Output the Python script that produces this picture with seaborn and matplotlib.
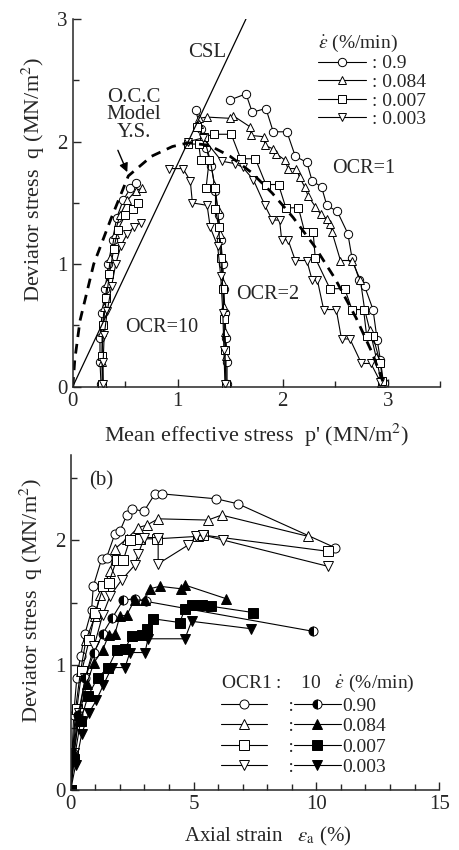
import matplotlib
matplotlib.use("Agg")
import matplotlib.pyplot as plt
from matplotlib.ticker import MultipleLocator
import seaborn as sns

# ---------------- (a) effective stress paths  p' - q ----------------
rates = ["0.9", "0.084", "0.007", "0.003"]
rates_b = ["0.90", "0.084", "0.007", "0.003"]
markers = ["o", "^", "s", "v"]

# OCR = 1
p_ocr1 = [
    [2.96, 2.93, 2.90, 2.86, 2.78, 2.73, 2.66, 2.62, 2.52, 2.42, 2.37, 2.28, 2.23, 2.12, 2.04, 1.91, 1.84, 1.71, 1.65, 1.50],
    [2.94, 2.89, 2.83, 2.78, 2.74, 2.66, 2.55, 2.47, 2.45, 2.42, 2.36, 2.31, 2.24, 2.21, 2.16, 2.13, 2.05, 2.02, 1.94, 1.91, 1.83, 1.82, 1.70, 1.69, 1.53, 1.50, 1.28, 1.20],
    [2.95, 2.93, 2.86, 2.80, 2.77, 2.66, 2.59, 2.45, 2.31, 2.29, 2.21, 2.15, 2.03, 1.96, 1.84, 1.74, 1.60, 1.51, 1.35, 1.25, 1.18],
    [2.93, 2.84, 2.75, 2.64, 2.56, 2.51, 2.39, 2.33, 2.28, 2.23, 2.12, 2.05, 1.99, 1.97, 1.90, 1.83, 1.72, 1.62, 1.55, 1.42, 1.24, 1.10],
]
q_ocr1 = [
    [0.03, 0.22, 0.38, 0.63, 0.82, 0.87, 1.05, 1.25, 1.43, 1.48, 1.63, 1.68, 1.83, 1.88, 2.08, 2.08, 2.27, 2.24, 2.39, 2.34],
    [0.03, 0.24, 0.46, 0.63, 0.87, 1.03, 1.03, 1.26, 1.33, 1.37, 1.41, 1.47, 1.56, 1.63, 1.71, 1.78, 1.78, 1.85, 1.90, 1.94, 1.97, 2.04, 2.05, 2.12, 2.21, 2.19, 2.20, 2.19],
    [0.05, 0.19, 0.41, 0.41, 0.63, 0.63, 0.80, 0.80, 1.05, 1.26, 1.26, 1.46, 1.46, 1.65, 1.65, 1.86, 1.86, 2.06, 2.06, 2.04, 2.12],
    [0.04, 0.19, 0.19, 0.39, 0.39, 0.63, 0.63, 0.87, 0.87, 1.03, 1.03, 1.20, 1.20, 1.36, 1.36, 1.48, 1.69, 1.79, 1.82, 1.84, 2.03, 2.00],
]

# OCR = 2
p_ocr2 = [
    [1.47, 1.47, 1.46, 1.45, 1.44, 1.43, 1.41, 1.39, 1.36, 1.32, 1.27, 1.22, 1.17],
    [1.46, 1.46, 1.45, 1.44, 1.43, 1.42, 1.40, 1.38, 1.35, 1.31, 1.26, 1.20],
    [1.46, 1.45, 1.44, 1.43, 1.41, 1.39, 1.36, 1.36, 1.27, 1.30, 1.22, 1.20, 1.10],
    [1.45, 1.44, 1.43, 1.41, 1.38, 1.31, 1.28, 1.14, 1.12, 1.05, 0.92],
]
q_ocr2 = [
    [0.02, 0.20, 0.40, 0.60, 0.80, 1.00, 1.20, 1.40, 1.60, 1.80, 1.95, 2.10, 2.26],
    [0.02, 0.25, 0.45, 0.65, 0.85, 1.05, 1.25, 1.45, 1.65, 1.85, 2.00, 2.14],
    [0.02, 0.30, 0.55, 0.80, 1.05, 1.30, 1.45, 1.62, 1.62, 1.85, 1.85, 1.98, 1.98],
    [0.02, 0.30, 0.60, 0.90, 1.15, 1.30, 1.48, 1.50, 1.68, 1.78, 1.78],
]

# OCR = 10
p_ocr10 = [
    [0.27, 0.26, 0.26, 0.28, 0.31, 0.34, 0.38, 0.42, 0.48, 0.55, 0.60],
    [0.29, 0.28, 0.28, 0.30, 0.33, 0.36, 0.40, 0.45, 0.52, 0.60, 0.66],
    [0.28, 0.28, 0.29, 0.32, 0.35, 0.39, 0.43, 0.50, 0.57, 0.62],
    [0.29, 0.29, 0.30, 0.33, 0.37, 0.41, 0.46, 0.52, 0.58, 0.65],
]
q_ocr10 = [
    [0.02, 0.20, 0.40, 0.60, 0.80, 1.00, 1.20, 1.38, 1.52, 1.62, 1.66],
    [0.02, 0.20, 0.45, 0.65, 0.85, 1.05, 1.25, 1.40, 1.52, 1.60, 1.62],
    [0.02, 0.25, 0.50, 0.72, 0.92, 1.12, 1.28, 1.40, 1.45, 1.50],
    [0.02, 0.20, 0.42, 0.62, 0.82, 1.00, 1.15, 1.25, 1.30, 1.34],
]

# O.C.C. model yield surface
p_ys = [0.0, 0.01, 0.02, 0.07, 0.20, 0.36, 0.53, 0.75, 0.95, 1.10, 1.30, 1.50, 1.70, 1.90, 2.10, 2.30, 2.50, 2.70, 2.85, 2.96]
q_ys = [0.0, 0.10, 0.22, 0.54, 1.00, 1.36, 1.72, 1.88, 1.96, 1.99, 1.97, 1.88, 1.75, 1.58, 1.38, 1.15, 0.88, 0.56, 0.28, 0.03]

p_csl = [0.0, 1.65]
q_csl = [0.0, 3.0]

# ---------------- (b) stress - strain ----------------
ea_ocr1 = [
    [0.0, 0.05, 0.12, 0.25, 0.40, 0.58, 0.85, 0.92, 1.26, 1.46, 1.80, 2.00, 2.28, 2.48, 2.98, 3.43, 3.70, 5.93, 6.81, 10.75],
    [0.0, 0.08, 0.20, 0.40, 0.62, 0.99, 1.19, 1.60, 1.80, 2.28, 2.75, 3.10, 3.56, 5.59, 6.14, 9.66],
    [0.0, 0.10, 0.25, 0.45, 0.75, 1.00, 1.33, 1.55, 1.87, 2.14, 2.40, 2.82, 3.50, 5.20, 5.39, 10.47],
    [0.0, 0.15, 0.35, 0.60, 0.95, 1.30, 1.60, 2.07, 2.61, 2.75, 3.00, 3.56, 3.56, 4.78, 5.12, 5.39, 6.21, 10.47],
]
q_ocr1_b = [
    [0.0, 0.25, 0.60, 0.90, 1.07, 1.25, 1.44, 1.63, 1.85, 1.86, 2.05, 2.07, 2.20, 2.25, 2.23, 2.37, 2.37, 2.33, 2.29, 1.94],
    [0.0, 0.30, 0.65, 0.95, 1.20, 1.39, 1.56, 1.75, 1.93, 2.01, 2.10, 2.12, 2.17, 2.16, 2.20, 2.03],
    [0.0, 0.30, 0.65, 0.95, 1.20, 1.42, 1.63, 1.66, 1.84, 1.84, 2.00, 2.01, 2.01, 2.03, 2.04, 1.91],
    [0.0, 0.30, 0.62, 0.90, 1.15, 1.40, 1.55, 1.68, 1.80, 1.89, 2.02, 2.02, 1.81, 1.96, 2.03, 2.04, 2.00, 1.79],
]
ea_ocr10 = [
    [0.0, 0.10, 0.30, 0.60, 0.95, 1.30, 1.70, 2.14, 2.61, 3.05, 9.86],
    [0.0, 0.12, 0.35, 0.65, 0.95, 1.30, 1.55, 1.80, 2.00, 2.28, 2.60, 3.02, 3.22, 3.63, 4.50, 4.65, 6.34],
    [0.0, 0.15, 0.40, 0.70, 1.10, 1.53, 1.87, 2.21, 2.48, 2.89, 3.09, 3.36, 4.44, 4.65, 4.92, 5.33, 5.73, 7.42],
    [0.0, 0.20, 0.45, 0.75, 1.05, 1.33, 1.67, 2.21, 2.41, 3.02, 3.15, 4.65, 4.92, 7.36],
]
q_ocr10_b = [
    [0.0, 0.30, 0.60, 0.90, 1.10, 1.25, 1.38, 1.52, 1.53, 1.51, 1.27],
    [0.0, 0.30, 0.60, 0.85, 1.02, 1.12, 1.24, 1.25, 1.39, 1.40, 1.52, 1.52, 1.61, 1.63, 1.61, 1.64, 1.53],
    [0.0, 0.25, 0.55, 0.75, 0.90, 0.98, 1.12, 1.13, 1.23, 1.24, 1.29, 1.37, 1.34, 1.45, 1.48, 1.48, 1.47, 1.42],
    [0.0, 0.20, 0.45, 0.62, 0.72, 0.84, 0.98, 0.98, 1.10, 1.10, 1.21, 1.21, 1.35, 1.29],
]

sns.set_style("ticks")
plt.rcParams["font.family"] = ["Liberation Serif", "DejaVu Serif"]
plt.rcParams["mathtext.fontset"] = "stix"
plt.rcParams["xtick.direction"] = "in"
plt.rcParams["ytick.direction"] = "in"

fig = plt.figure(figsize=(4.6, 8.5), dpi=100)
ax1 = fig.add_axes([0.158, 0.545, 0.799, 0.4326])
ax2 = fig.add_axes([0.1537, 0.0706, 0.801, 0.394])

line_kw = dict(color="black", linewidth=0.8, markeredgecolor="black",
               markeredgewidth=0.7, sort=False, estimator=None)

# top panel
handles = []
for i in range(4):
    for p, q in [(p_ocr1[i], q_ocr1[i]), (p_ocr2[i], q_ocr2[i]), (p_ocr10[i], q_ocr10[i])]:
        sns.lineplot(x=p, y=q, ax=ax1, marker=markers[i], markersize=6,
                     markerfacecolor="white", **line_kw)
    handles.append(ax1.lines[-1])

sns.lineplot(x=p_ys, y=q_ys, ax=ax1, color="black", linewidth=2.0,
             linestyle=(0, (3.5, 2.5)), sort=False, estimator=None)
sns.lineplot(x=p_csl, y=q_csl, ax=ax1, color="black", linewidth=0.9,
             sort=False, estimator=None)

ax1.text(1.28, 2.73, "CSL", fontsize=15, ha="center", va="center")
ax1.text(0.58, 2.22, "O.C.C\nModel\nY.S.", fontsize=15, ha="center",
         va="center", linespacing=0.9)
ax1.annotate("", xy=(0.53, 1.73), xytext=(0.42, 1.95),
             arrowprops=dict(arrowstyle="-|>", color="black", lw=1.0,
                             mutation_scale=13))
ax1.text(2.77, 1.78, "OCR=1", fontsize=14.5, ha="center", va="center")
ax1.text(1.86, 0.75, "OCR=2", fontsize=14.5, ha="center", va="center")
ax1.text(0.85, 0.48, "OCR=10", fontsize=14.5, ha="center", va="center")

leg1 = ax1.legend(handles, [": " + r for r in rates],
                  title=r"$\dot{\varepsilon}$ (%/min)", loc="upper left",
                  bbox_to_anchor=(0.63, 1.0), frameon=False, fontsize=14,
                  title_fontsize=14, handlelength=2.5, handletextpad=0.3,
                  labelspacing=0.05, borderpad=0.2)
leg1._legend_box.align = "left"

ax1.set_xlim(0, 3.5)
ax1.set_ylim(0, 3)
ax1.xaxis.set_major_locator(MultipleLocator(1))
ax1.xaxis.set_minor_locator(MultipleLocator(0.5))
ax1.yaxis.set_major_locator(MultipleLocator(1))
ax1.yaxis.set_minor_locator(MultipleLocator(0.5))
ax1.set_xlabel("Mean effective stress  p' (MN/m$^2$)", fontsize=16)
ax1.set_ylabel("Deviator stress  q (MN/m$^2$)", fontsize=16)
ax1.xaxis.set_label_coords(0.5, -0.095)
ax1.yaxis.set_label_coords(-0.07, 0.565)

# bottom panel
h_open, h_fill = [], []
for i in range(4):
    sns.lineplot(x=ea_ocr1[i], y=q_ocr1_b[i], ax=ax2, marker=markers[i],
                 markersize=6.5, markerfacecolor="white", **line_kw)
    h_open.append(ax2.lines[-1])
for i in range(4):
    if i == 0:
        sns.lineplot(x=ea_ocr10[i], y=q_ocr10_b[i], ax=ax2, marker="o",
                     markersize=6.5, markerfacecolor="black",
                     markerfacecoloralt="white", fillstyle="left", **line_kw)
    else:
        sns.lineplot(x=ea_ocr10[i], y=q_ocr10_b[i], ax=ax2, marker=markers[i],
                     markersize=6.5, markerfacecolor="black", **line_kw)
    h_fill.append(ax2.lines[-1])

ax2.text(1.25, 2.47, "(b)", fontsize=15, ha="center", va="center")

leg2 = ax2.legend(h_open + h_fill, ["    :"] * 4 + rates_b, ncol=2,
                  title="OCR1 :    10   " + r"$\dot{\varepsilon}$ (%/min)",
                  loc="upper left", bbox_to_anchor=(0.37, 0.39),
                  frameon=False, fontsize=14, title_fontsize=14,
                  handlelength=2.4, handletextpad=0.1, columnspacing=0.0,
                  labelspacing=0.15, borderpad=0.2)
leg2._legend_box.align = "left"

ax2.set_xlim(0, 15)
ax2.set_ylim(0, 2.68)
ax2.xaxis.set_major_locator(MultipleLocator(5))
ax2.xaxis.set_minor_locator(MultipleLocator(1))
ax2.yaxis.set_major_locator(MultipleLocator(1))
ax2.yaxis.set_minor_locator(MultipleLocator(0.5))
ax2.set_xlabel(r"Axial strain   $\varepsilon_{\rm a}$ (%)", fontsize=15)
ax2.set_ylabel("Deviator stress  q (MN/m$^2$)", fontsize=16)
ax2.xaxis.set_label_coords(0.535, -0.105)
ax2.yaxis.set_label_coords(-0.07, 0.565)

for ax in (ax1, ax2):
    sns.despine(ax=ax)
    ax.tick_params(which="major", length=6, width=1.0, labelsize=15)
    ax.tick_params(which="minor", length=4, width=1.0)
    for s in ("left", "bottom"):
        ax.spines[s].set_linewidth(1.1)

fig.savefig("out.png", dpi=100)
